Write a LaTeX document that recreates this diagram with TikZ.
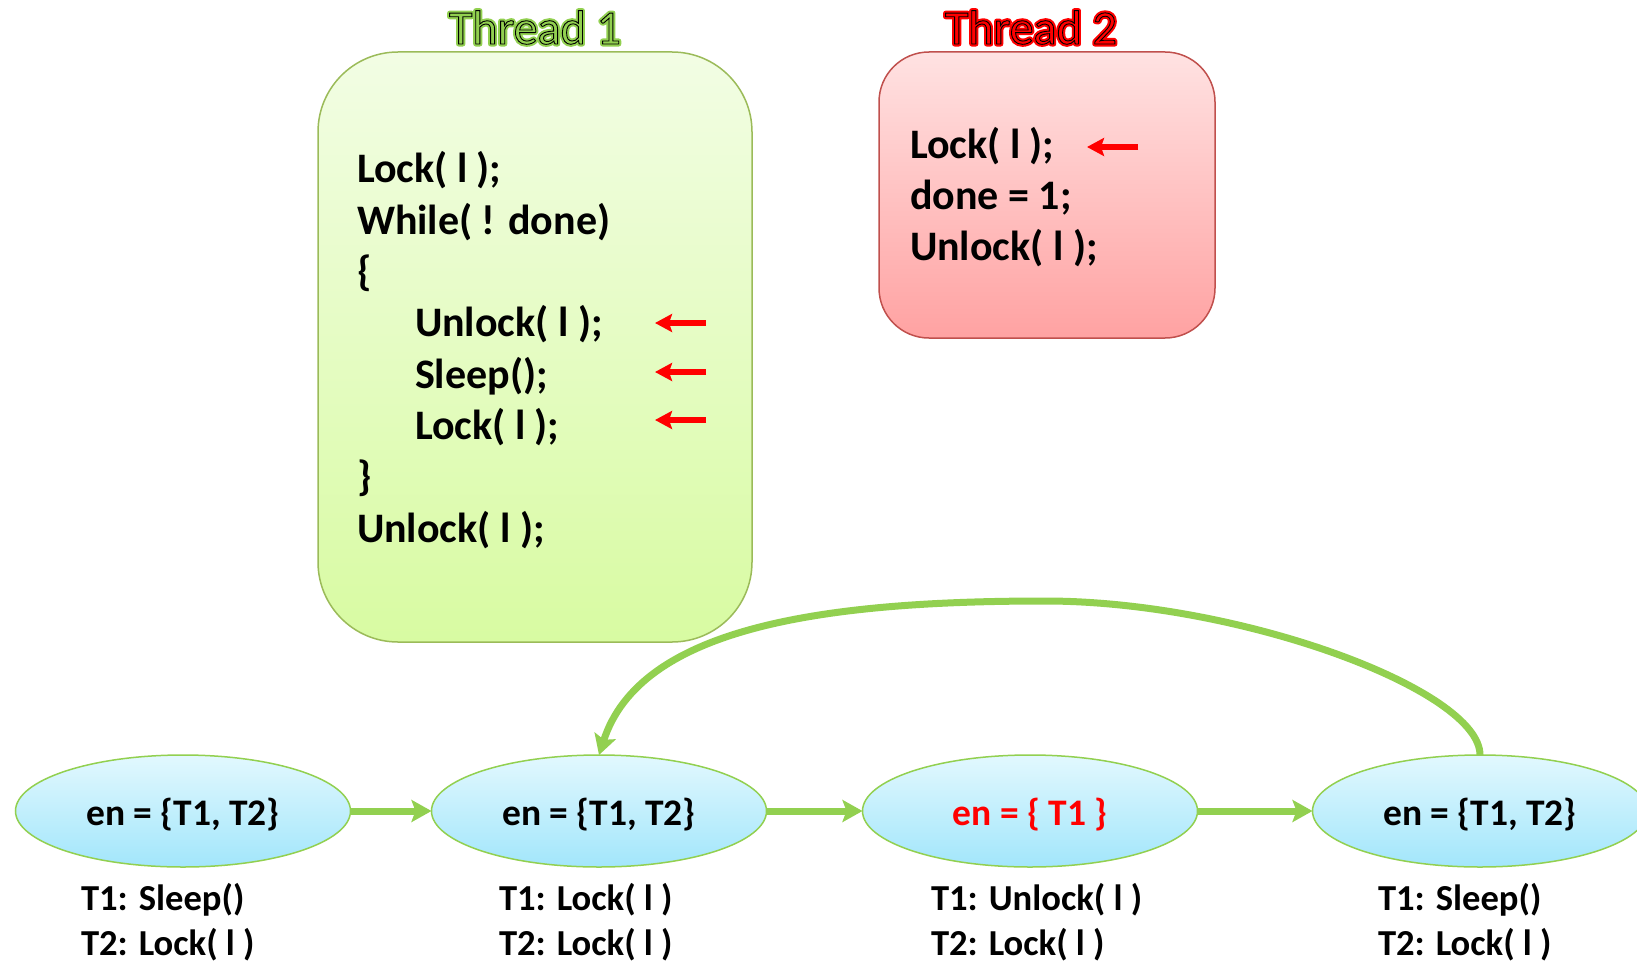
\documentclass[tikz,border=0pt]{standalone}
\usepackage{fontspec}
\setmainfont{Carlito}
\usetikzlibrary{shapes.geometric,arrows.meta}

\definecolor{leaf}{HTML}{92D050}
\definecolor{olive}{HTML}{9BBB59}
\definecolor{brick}{HTML}{C0504D}
\definecolor{lime1}{HTML}{F2FDE4}
\definecolor{lime2}{HTML}{D8FBA2}
\definecolor{rose1}{HTML}{FFE2E2}
\definecolor{rose2}{HTML}{FFA2A2}
\definecolor{sky1}{HTML}{E2F8FE}
\definecolor{sky2}{HTML}{A2E6FB}
\definecolor{hot}{HTML}{FF0000}

\newcommand{\codefont}{\fontsize{42}{51}\selectfont\bfseries}
\newcommand{\enfont}{\fontsize{37.5}{46}\selectfont\bfseries}
\newcommand{\lblfont}{\fontsize{36.6}{46}\selectfont\bfseries}
\newcommand{\titlefont}{\fontsize{48}{56}\selectfont}

% heading text: a wide coloured stroke for the glow, then the fill with a thin black outline
\newcommand{\glowpass}[2]{\special{pdf:literal direct #1 RG 5 w 1 j 1 Tr}#2\special{pdf:literal direct 0 Tr 0 j}}
\newcommand{\inkpass}[1]{\special{pdf:literal direct 0 0 0 RG 0.9 w 2 Tr}#1\special{pdf:literal direct 0 Tr}}
\newcommand{\headingtext}[2]{\rlap{\glowpass{#1}{#2}}\inkpass{#2}}

\begin{document}
\begin{tikzpicture}[x=1pt,y=-1pt,
  every node/.style={inner sep=0pt, outer sep=0pt},
  codeline/.style={anchor=base west, font=\codefont},
  heading/.style={anchor=base, font=\titlefont},
  greenbox/.style={draw=olive, line width=1.5pt, rounded corners=80pt,
     top color=lime1, bottom color=lime2},
  redbox/.style={draw=brick, line width=1.5pt, rounded corners=50pt,
     top color=rose1, bottom color=rose2},
  state/.style={ellipse, draw=leaf, line width=1.5pt, top color=sky1, bottom color=sky2,
     minimum width=335pt, minimum height=112pt},
  entext/.style={anchor=base, font=\enfont},
  lbl/.style={anchor=base west, font=\lblfont},
  flow/.style={draw=leaf, line width=7pt, -{Stealth[length=20pt,width=22pt,inset=4pt]}},
  pointer/.style={draw=hot, line width=5.5pt, -{Stealth[length=17pt,width=18pt,inset=3pt]}}
]
\useasboundingbox (0,0) rectangle (1637,963);

% thread boxes
\node[greenbox, minimum width=434pt, minimum height=590pt] (box1) at (535,347) {};
\node[redbox, minimum width=336pt, minimum height=286pt] (box2) at (1047,195) {};

% headings
\node[heading, text=leaf] (h1) at (535,44) {\headingtext{0.573 0.816 0.314}{Thread 1}};
\node[heading, text=hot] (h2) at (1031,44) {\headingtext{1 0 0}{Thread 2}};

% thread 1 code
\node[codeline] (c1) at (357,182.7) {Lock( l );};
\node[codeline] (c2) at (357,234) {While( ! done)};
\node[codeline] (c3) at (357,285.3) {\{};
\node[codeline] (c4) at (415,336.6) {Unlock( l );};
\node[codeline] (c5) at (415,388) {Sleep();};
\node[codeline] (c6) at (415,439) {Lock( l );};
\node[codeline] (c7) at (357,490.5) {\}};
\node[codeline] (c8) at (357,542) {Unlock( l );};

% thread 2 code
\node[codeline] (d1) at (910,158) {Lock( l );};
\node[codeline] (d2) at (910,209) {done = 1;};
\node[codeline] (d3) at (910,260) {Unlock( l );};

% current-statement pointers
\coordinate (p1s) at (706,323); \coordinate (p1e) at (655,323);
\coordinate (p2s) at (706,372); \coordinate (p2e) at (655,372);
\coordinate (p3s) at (706,420); \coordinate (p3e) at (655,420);
\coordinate (p4s) at (1138,147); \coordinate (p4e) at (1087,147);
\draw[pointer] (p1s) -- (p1e);
\draw[pointer] (p2s) -- (p2e);
\draw[pointer] (p3s) -- (p3e);
\draw[pointer] (p4s) -- (p4e);

% state graph
\node[state] (e1) at (183,811) {};
\node[state] (e2) at (599,811) {};
\node[state] (e3) at (1030,811) {};
\node[state] (e4) at (1480,811) {};

\node[entext] (e1t) at (183,825) {en = \{T1, T2\}};
\node[entext] (e2t) at (599,825) {en = \{T1, T2\}};
\node[entext, text=hot] (e3t) at (1030,825) {en = \{ T1 \}};
\node[entext] (e4t) at (1480,825) {en = \{T1, T2\}};

\draw[flow] (e1.east) -- (e2.west);
\draw[flow] (e2.east) -- (e3.west);
\draw[flow] (e3.east) -- (e4.west);
\draw[flow] (e4.north) .. controls (1480,690) and (1240,601) .. (1045,601)
   .. controls (820,601) and (640,628) .. (e2.north);

% labels under the states
\node[lbl] (s1a) at (81,910) {T1: Sleep()};
\node[lbl] (s1b) at (81,955) {T2: Lock( l )};
\node[lbl] (s2a) at (499,910) {T1: Lock( l )};
\node[lbl] (s2b) at (499,955) {T2: Lock( l )};
\node[lbl] (s3a) at (931,910) {T1: Unlock( l )};
\node[lbl] (s3b) at (931,955) {T2: Lock( l )};
\node[lbl] (s4a) at (1378,910) {T1: Sleep()};
\node[lbl] (s4b) at (1378,955) {T2: Lock( l )};
\end{tikzpicture}
\end{document}
